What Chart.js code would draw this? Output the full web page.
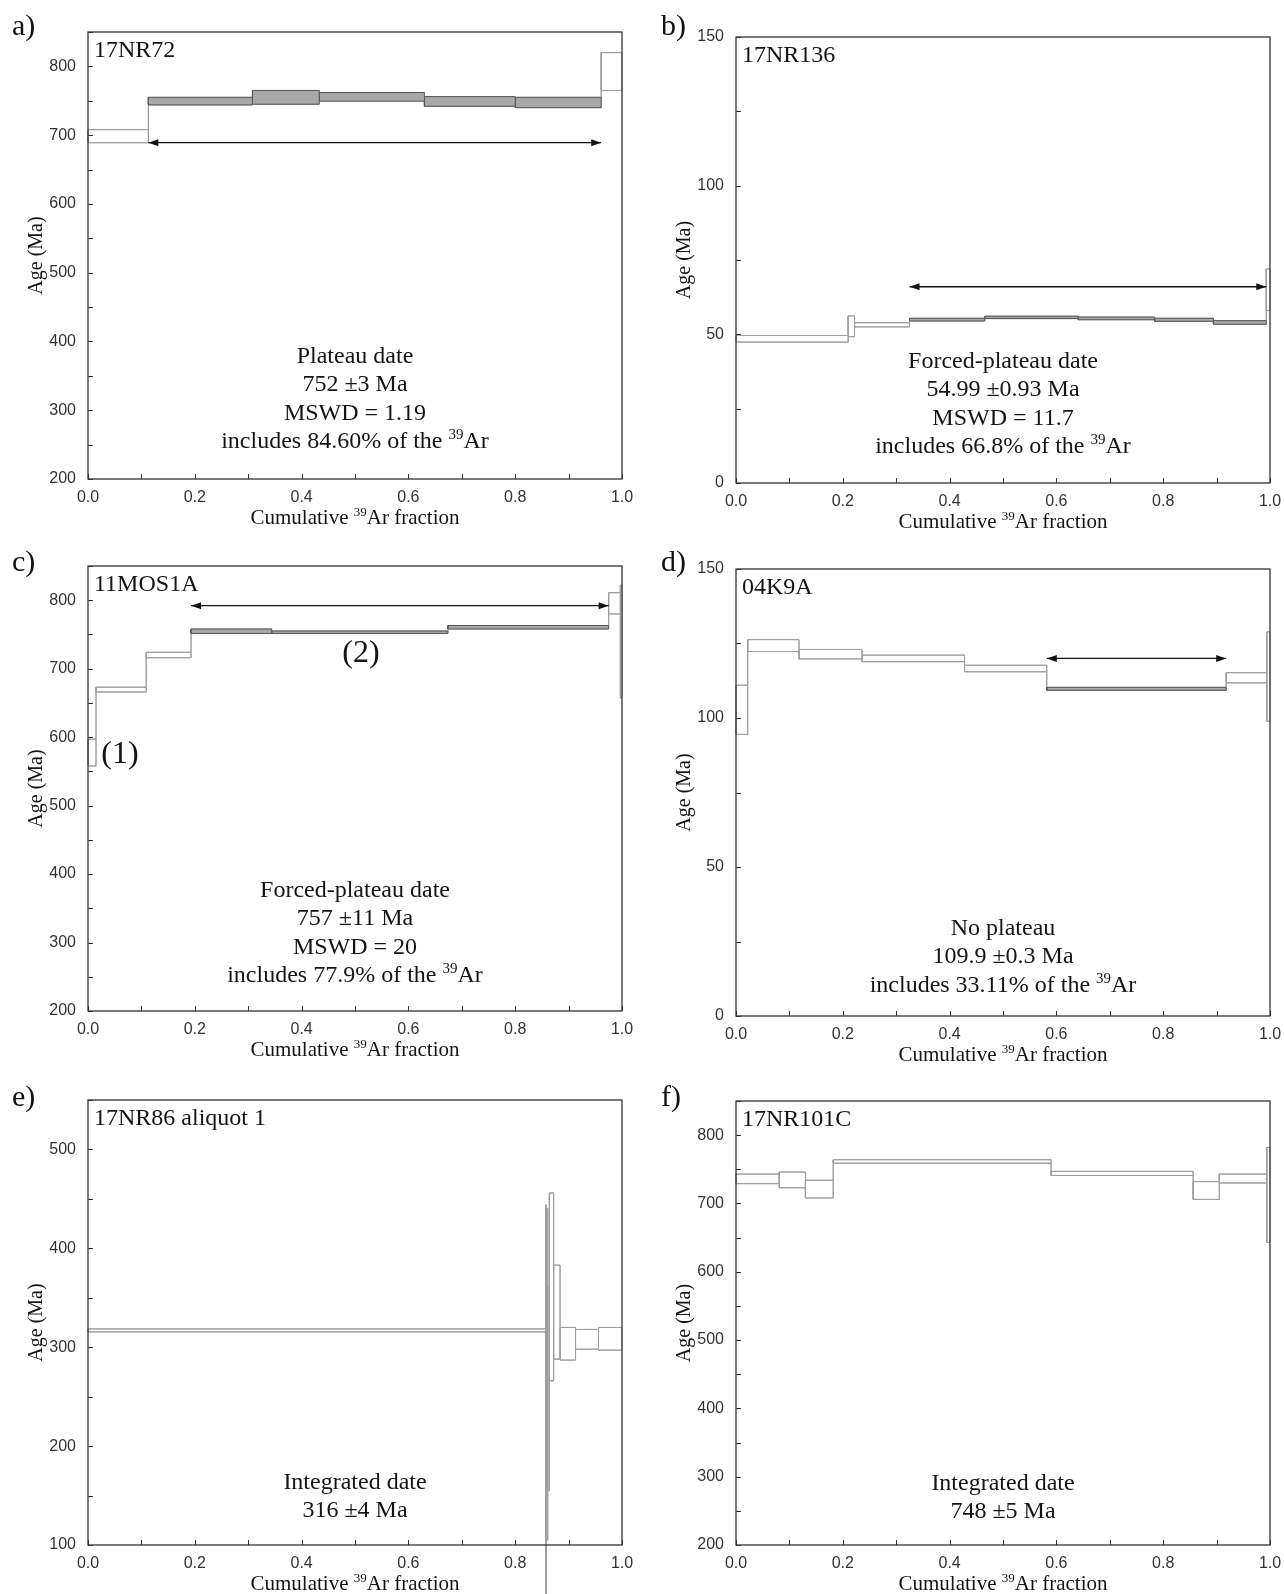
<!DOCTYPE html>
<html>
<head>
<meta charset="utf-8">
<script src="https://cdn.jsdelivr.net/npm/chart.js@4.4.0/dist/chart.umd.min.js"></script>
<style>
  html, body { margin: 0; padding: 0; background: #fff; overflow: hidden; }
  #page { position: relative; width: 1284px; height: 1594px; overflow: hidden; }
  #page canvas { position: absolute; }
  .tag { position: absolute; font-family: "Liberation Serif", "Times New Roman", serif; font-size: 30px; line-height: 30px; color: #111; }
</style>
</head>
<body>
<div id="page"></div>
<script>
"use strict";

// ---- data ----
const panelTags = ['a)', 'b)', 'c)', 'd)', 'e)', 'f)'];
const sampleNames = ['17NR72', '17NR136', '11MOS1A', '04K9A', '17NR86 aliquot 1', '17NR101C'];
const ageMin = [200, 0, 200, 0, 100, 200];
const ageMax = [850, 150, 850, 150, 550, 850];
const ageTickStep = [50, 25, 50, 25, 50, 50];
const ageLabelStep = [100, 50, 100, 50, 100, 100];
const fracTickStep = 0.1;
const fracLabelEvery = 2;

// step edges (cumulative 39Ar fraction) and age boxes (Ma)
const aEdges = [0, 0.113, 0.308, 0.433, 0.630, 0.800, 0.961, 1.0];
const aLow = [689, 744, 745, 749.5, 742, 740, 765];
const aHigh = [708, 755, 765, 762, 756, 755, 820];
const aPlateau = [false, true, true, true, true, true, false];

const bEdges = [0, 0.210, 0.222, 0.325, 0.466, 0.641, 0.784, 0.894, 0.993, 1.0];
const bLow = [47.4, 49.2, 52.5, 54.5, 55.3, 54.9, 54.4, 53.4, 58];
const bHigh = [49.6, 56.2, 53.9, 55.4, 56.1, 55.8, 55.4, 54.6, 72];
const bPlateau = [false, false, false, true, true, true, true, true, false];

const cEdges = [0, 0.015, 0.109, 0.193, 0.344, 0.674, 0.975, 0.997, 1.0];
const cLow = [558, 666, 716, 751.5, 751.5, 758, 780, 657];
const cHigh = [597, 673, 724, 758, 755, 763, 811, 822];
const cPlateau = [false, false, false, true, true, true, false, false];

const dEdges = [0, 0.022, 0.118, 0.236, 0.428, 0.582, 0.918, 0.994, 1.0];
const dLow = [94.5, 122.3, 119.8, 118.9, 115.5, 109.3, 111.8, 98.9];
const dHigh = [111, 126.3, 123, 121.1, 117.7, 110.3, 115.2, 128.9];
const dPlateau = [false, false, false, false, false, true, false, false];

const eEdges = [0, 0.857, 0.858, 0.861, 0.864, 0.872, 0.884, 0.913, 0.956, 1.0];
const eLow = [315.5, 40, 105, 155, 266, 288, 287, 298, 297];
const eHigh = [318.5, 444, 440, 360, 456, 383, 320, 318, 320];
const ePlateau = [false, false, false, false, false, false, false, false, false];

const fEdges = [0, 0.081, 0.130, 0.182, 0.590, 0.856, 0.905, 0.994, 1.0];
const fLow = [729, 723, 708, 759, 741, 706, 730, 643];
const fHigh = [743, 746, 734, 764, 747, 732, 743, 782];
const fPlateau = [false, false, false, false, false, false, false, false];

const arrowStart = [0.113, 0.325, 0.193, 0.582, null, null];
const arrowEnd = [0.961, 0.993, 0.975, 0.918, null, null];
const arrowAge = [689, 66, 792, 120, null, null];

const aNotes = ['Plateau date', '752 \u00b13 Ma', 'MSWD = 1.19', 'includes 84.60% of the {39}Ar'];
const bNotes = ['Forced-plateau date', '54.99 \u00b10.93 Ma', 'MSWD = 11.7', 'includes 66.8% of the {39}Ar'];
const cNotes = ['Forced-plateau date', '757 \u00b111 Ma', 'MSWD = 20', 'includes 77.9% of the {39}Ar'];
const dNotes = ['No plateau', '109.9 \u00b10.3 Ma', 'includes 33.11% of the {39}Ar'];
const eNotes = ['Integrated date', '316 \u00b14 Ma'];
const fNotes = ['Integrated date', '748 \u00b15 Ma'];

const xTitle = 'Cumulative {39}Ar fraction';
const yTitle = 'Age (Ma)';

// ---- layout ----
const plotBoxes = [
  { l: 88, t: 32, r: 622, b: 479 },
  { l: 736, t: 37, r: 1270, b: 483 },
  { l: 88, t: 566, r: 622, b: 1011 },
  { l: 736, t: 569, r: 1270, b: 1016 },
  { l: 88, t: 1100, r: 622, b: 1545 },
  { l: 736, t: 1101, r: 1270, b: 1545 }
];
const tagSpots = [[12, 35], [661, 35], [12, 571], [661, 571], [12, 1106], [661, 1106]];
const noteOffset = [323, 323, 323, 358, 381, 381];
const noteGap = 28.5;
const extraLabels = [[], [], [{ text: '(1)', dx: 32, dy: 186 }, { text: '(2)', dx: 273, dy: 85 }], [], [], []];

const SERIF = '"Liberation Serif", "Times New Roman", serif';
const SANS = '"Liberation Sans", Arial, sans-serif';
const stepGrey = '#9e9e9e';
const plateauEdge = '#575757';
const plateauFill = '#a8a8a8';
const inkColor = '#141414';

const allEdges = [aEdges, bEdges, cEdges, dEdges, eEdges, fEdges];
const allLow = [aLow, bLow, cLow, dLow, eLow, fLow];
const allHigh = [aHigh, bHigh, cHigh, dHigh, eHigh, fHigh];
const allPlateau = [aPlateau, bPlateau, cPlateau, dPlateau, ePlateau, fPlateau];
const allNotes = [aNotes, bNotes, cNotes, dNotes, eNotes, fNotes];

// text with {nn} superscripts, centred on cx, visual middle at cy
function drawRich(ctx, text, cx, cy, size) {
  const parts = [];
  const re = /\{(\d+)\}/g;
  let last = 0, m;
  while ((m = re.exec(text))) {
    if (m.index > last) parts.push({ t: text.slice(last, m.index), sup: false });
    parts.push({ t: m[1], sup: true });
    last = re.lastIndex;
  }
  if (last < text.length) parts.push({ t: text.slice(last), sup: false });
  const supSize = Math.round(size * 0.62);
  let total = 0;
  parts.forEach(p => {
    ctx.font = (p.sup ? supSize : size) + 'px ' + SERIF;
    p.w = ctx.measureText(p.t).width;
    total += p.w;
  });
  let x = cx - total / 2;
  const base = cy + size * 0.33;
  ctx.textAlign = 'left';
  ctx.textBaseline = 'alphabetic';
  parts.forEach(p => {
    ctx.font = (p.sup ? supSize : size) + 'px ' + SERIF;
    ctx.fillText(p.t, x, p.sup ? base - size * 0.38 : base);
    x += p.w;
  });
}

function line(ctx, x0, y0, x1, y1) {
  ctx.beginPath();
  ctx.moveTo(x0, y0);
  ctx.lineTo(x1, y1);
  ctx.stroke();
}

const decorPlugin = {
  id: 'decor',
  afterDatasetsDraw(chart, args, o) {
    const ctx = chart.ctx;
    const { left, right, top, bottom } = chart.chartArea;
    const xs = chart.scales.x, ys = chart.scales.y;
    ctx.save();

    // arrow heads
    if (o.arrow) {
      const y = ys.getPixelForValue(o.arrow.age);
      const x0 = xs.getPixelForValue(o.arrow.from);
      const x1 = xs.getPixelForValue(o.arrow.to);
      ctx.fillStyle = inkColor;
      ctx.beginPath();
      ctx.moveTo(x0, y); ctx.lineTo(x0 + 10, y - 3.5); ctx.lineTo(x0 + 10, y + 3.5); ctx.closePath();
      ctx.fill();
      ctx.beginPath();
      ctx.moveTo(x1, y); ctx.lineTo(x1 - 10, y - 3.5); ctx.lineTo(x1 - 10, y + 3.5); ctx.closePath();
      ctx.fill();
    }

    // frame and inner ticks
    ctx.strokeStyle = '#333';
    ctx.lineWidth = 1.3;
    ctx.strokeRect(left, top, right - left, bottom - top);
    ctx.lineWidth = 1;
    xs.ticks.forEach(t => {
      const px = Math.round(xs.getPixelForValue(t.value)) + 0.5;
      line(ctx, px, bottom, px, bottom - 5);
    });
    ys.ticks.forEach(t => {
      const py = Math.round(ys.getPixelForValue(t.value)) + 0.5;
      line(ctx, left, py, left + 5, py);
    });

    // texts
    ctx.fillStyle = inkColor;
    ctx.font = '24px ' + SERIF;
    ctx.textAlign = 'left';
    ctx.textBaseline = 'alphabetic';
    ctx.fillText(o.sample, left + 6, top + 24.5);

    const cx = (left + right) / 2;
    o.notes.forEach((s, i) => drawRich(ctx, s, cx, top + o.noteTop + i * noteGap, 24));
    o.extra.forEach(e => drawRich(ctx, e.text, left + e.dx, top + e.dy, 32));

    drawRich(ctx, xTitle, cx, bottom + 37.6, 21);
    ctx.save();
    ctx.translate(left - 53, (top + bottom) / 2);
    ctx.rotate(-Math.PI / 2);
    drawRich(ctx, yTitle, 0, 0, 20);
    ctx.restore();

    ctx.restore();
  }
};

function buildDatasets(i) {
  const edges = allEdges[i], low = allLow[i], high = allHigh[i], plat = allPlateau[i];
  const sets = [];
  if (arrowStart[i] !== null) {
    sets.push({
      data: [{ x: arrowStart[i], y: arrowAge[i] }, { x: arrowEnd[i], y: arrowAge[i] }],
      showLine: true, pointRadius: 0, borderWidth: 1.3, borderColor: inkColor, fill: false, clip: false
    });
  }
  for (let k = 0; k < low.length; k++) {
    const x0 = edges[k], x1 = edges[k + 1];
    sets.push({
      data: [
        { x: x0, y: low[k] }, { x: x1, y: low[k] }, { x: x1, y: high[k] },
        { x: x0, y: high[k] }, { x: x0, y: low[k] }
      ],
      showLine: true, pointRadius: 0, borderWidth: 1,
      borderColor: plat[k] ? plateauEdge : stepGrey,
      backgroundColor: plat[k] ? plateauFill : 'rgba(0,0,0,0)',
      fill: plat[k] ? 'shape' : false,
      clip: false
    });
  }
  // connecting staircases along the tops and bottoms of the steps
  const topStair = low.map((_, k) => ({ x: edges[k], y: high[k] }));
  topStair.push({ x: edges[edges.length - 1], y: high[high.length - 1] });
  const lowStair = low.map((v, k) => ({ x: edges[k], y: v }));
  lowStair.push({ x: edges[edges.length - 1], y: low[low.length - 1] });
  [topStair, lowStair].forEach(d => sets.push({
    data: d, showLine: true, stepped: true, pointRadius: 0, borderWidth: 1,
    borderColor: stepGrey, fill: false, clip: false
  }));
  return sets;
}

const page = document.getElementById('page');

panelTags.forEach((tag, i) => {
  const box = plotBoxes[i];
  const canvas = document.createElement('canvas');
  const w = box.r - box.l + 100;
  const h = box.b - box.t + 92;
  canvas.width = w;
  canvas.height = h;
  canvas.style.left = (box.l - 88) + 'px';
  canvas.style.top = (box.t - 30) + 'px';
  page.appendChild(canvas);

  const div = document.createElement('div');
  div.className = 'tag';
  div.textContent = tag;
  div.style.left = tagSpots[i][0] + 'px';
  div.style.top = (tagSpots[i][1] - 25) + 'px';
  page.appendChild(div);

  new Chart(canvas, {
    type: 'scatter',
    data: { datasets: buildDatasets(i) },
    options: {
      responsive: false,
      animation: false,
      events: [],
      layout: { padding: { top: 30, right: 12, bottom: 0, left: 0 } },
      plugins: {
        legend: { display: false },
        tooltip: { enabled: false },
        decor: {
          sample: sampleNames[i],
          notes: allNotes[i],
          noteTop: noteOffset[i],
          extra: extraLabels[i],
          arrow: arrowStart[i] === null ? null : { from: arrowStart[i], to: arrowEnd[i], age: arrowAge[i] }
        }
      },
      scales: {
        x: {
          type: 'linear', min: 0, max: 1,
          grid: { display: false, drawTicks: false },
          border: { display: false },
          ticks: {
            stepSize: fracTickStep, autoSkip: false, maxRotation: 0, padding: 9,
            color: '#333', font: { family: SANS, size: 16 },
            callback: v => {
              const n = Math.round(v / fracTickStep);
              return n % fracLabelEvery === 0 ? (n * fracTickStep).toFixed(1) : '';
            }
          },
          afterFit: s => { s.height = 62; s.paddingLeft = 0; s.paddingRight = 0; }
        },
        y: {
          type: 'linear', min: ageMin[i], max: ageMax[i],
          grid: { display: false, drawTicks: false },
          border: { display: false },
          ticks: {
            stepSize: ageTickStep[i], autoSkip: false, padding: 12,
            color: '#333', font: { family: SANS, size: 16 },
            callback: v => (Math.round(v) % ageLabelStep[i] === 0 ? String(Math.round(v)) : '')
          },
          afterFit: s => { s.width = 88; s.paddingTop = 0; s.paddingBottom = 0; }
        }
      }
    },
    plugins: [decorPlugin]
  });
});
</script>
</body>
</html>
